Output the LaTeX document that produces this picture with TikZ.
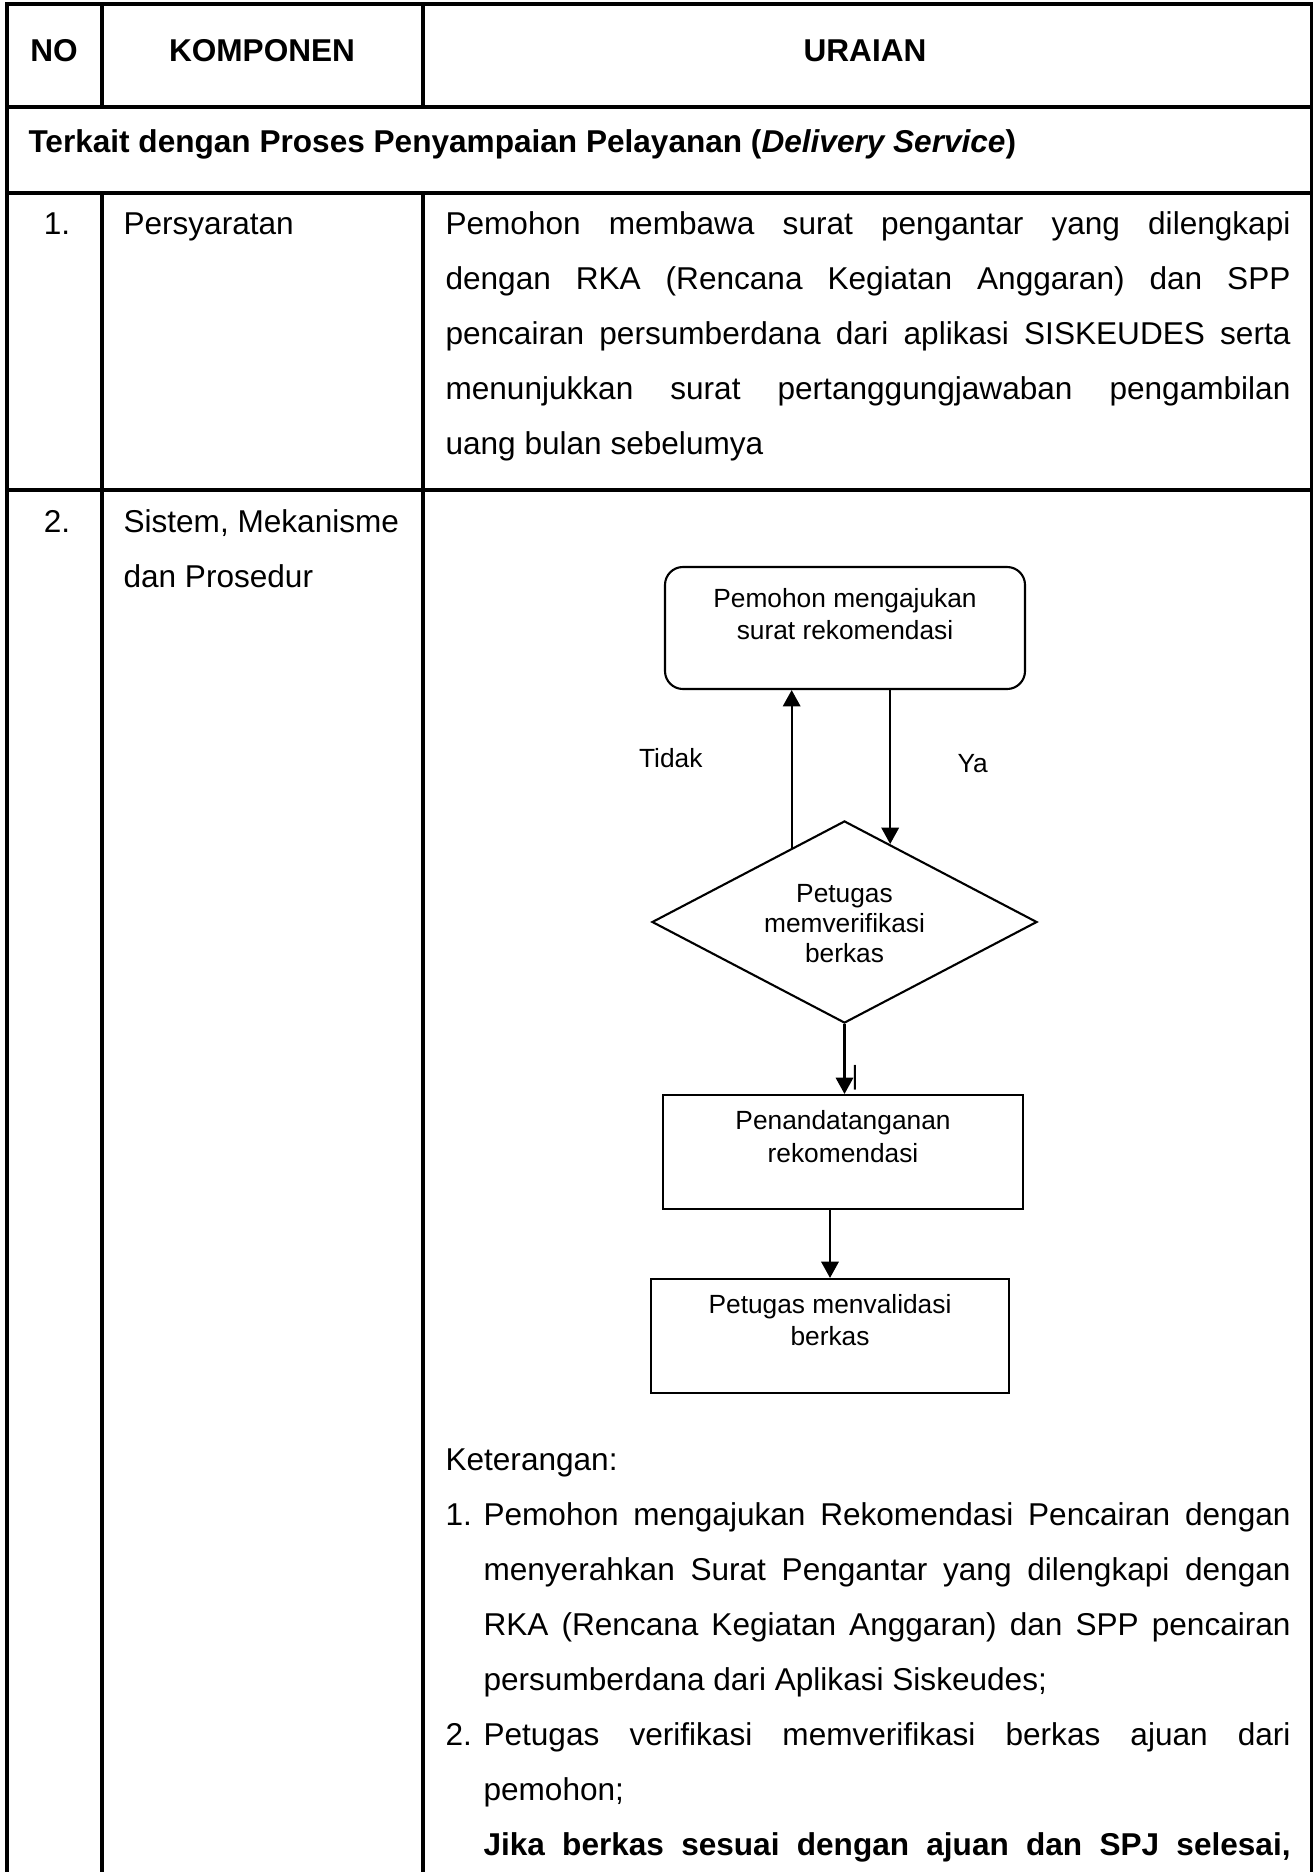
\documentclass[tikz,border=0pt]{standalone}
\usepackage{fontspec}
\setmainfont{Liberation Sans}
\usetikzlibrary{shapes.geometric,arrows.meta,calc}

% a justified line of given width
\newcommand{\fillrow}[2]{\makebox[#1][s]{#2}}

\begin{document}
\begin{tikzpicture}[x=0.38pt,y=-0.38pt,
  grid/.style={line width=1.15pt},
  cell/.style={inner sep=0pt,anchor=base west,font=\fontsize{12}{14}\selectfont},
  cellc/.style={inner sep=0pt,anchor=base,font=\fontsize{12}{14}\selectfont},
  head/.style={inner sep=0pt,anchor=base,font=\fontsize{12}{14}\selectfont\bfseries},
  fbox/.style={draw,line width=0.8pt,inner sep=0pt},
  roundbox/.style={fbox,rounded corners=6.8pt},
  decision/.style={fbox,diamond,aspect=1.9,minimum width=146.3pt,minimum height=76.8pt},
  ftxt/.style={inner sep=0pt,anchor=base,font=\fontsize{10}{12}\selectfont},
  arr/.style={line width=0.85pt,-{Triangle[width=6.6pt,length=6.2pt]}}
]
\useasboundingbox (0,0) rectangle (1314,1872);

% table grid
\draw[grid] (7,1872) -- (7,4) -- (1311,4) -- (1311,1872);
\draw[grid] (7,107) -- (1311,107);
\draw[grid] (7,193) -- (1311,193);
\draw[grid] (7,490) -- (1311,490);
\draw[grid] (102,4) -- (102,107);
\draw[grid] (423,4) -- (423,107);
\draw[grid] (102,193) -- (102,1872);
\draw[grid] (423,193) -- (423,1872);

% header
\node[head] (hno) at (54,62) {NO};
\node[head] (hkomp) at (262,62) {KOMPONEN};
\node[head] (hurai) at (865,62) {URAIAN};
\node[head,anchor=base west] (sect) at (28,152)
  {Terkait dengan Proses Penyampaian Pelayanan (\textit{Delivery Service})};

% row 1
\node[cellc] (no1) at (57,234) {1.};
\node[cell] (komp1) at (123,234) {Persyaratan};
\node[cell] (r1a) at (445,234.0) {\fillrow{321.1pt}{Pemohon membawa surat pengantar yang dilengkapi}};
\node[cell] (r1b) at (445,289.2) {\fillrow{321.1pt}{dengan RKA (Rencana Kegiatan Anggaran) dan SPP}};
\node[cell] (r1c) at (445,344.4) {\fillrow{321.1pt}{pencairan persumberdana dari aplikasi SISKEUDES serta}};
\node[cell] (r1d) at (445,399.6) {\fillrow{321.1pt}{menunjukkan surat pertanggungjawaban pengambilan}};
\node[cell] (r1e) at (445,454.8) {uang bulan sebelumya};

% row 2
\node[cellc] (no2) at (57,532) {2.};
\node[cell] (komp2a) at (123,532) {Sistem, Mekanisme};
\node[cell] (komp2b) at (123,587) {dan Prosedur};

% flowchart boxes
\node[roundbox,minimum width=136.8pt,minimum height=46.36pt] (ajukan) at (845,628) {};
\node[decision] (verif) at (844.5,922) {};
\node[fbox,minimum width=136.8pt,minimum height=43.32pt] (ttd) at (843,1152) {};
\node[fbox,minimum width=136.04pt,minimum height=43.32pt] (valid) at (830,1336) {};

% flowchart texts
\node[ftxt] (ajukan-a) at (845,607) {Pemohon mengajukan};
\node[ftxt] (ajukan-b) at (845,639) {surat rekomendasi};
\node[ftxt] (verif-a) at (844.5,902) {Petugas};
\node[ftxt] (verif-b) at (844.5,932) {memverifikasi};
\node[ftxt] (verif-c) at (844.5,962) {berkas};
\node[ftxt] (ttd-a) at (843,1129) {Penandatanganan};
\node[ftxt] (ttd-b) at (843,1162) {rekomendasi};
\node[ftxt] (valid-a) at (830,1313) {Petugas menvalidasi};
\node[ftxt] (valid-b) at (830,1345) {berkas};
\node[ftxt,anchor=base east] (tidak) at (703,767) {Tidak};
\node[ftxt,anchor=base west] (ya-t) at (957,772) {Ya};
\node[ftxt] (bar) at (855,1084) {|};

% connectors
\coordinate (tdk) at ($(verif.north)!0.273!(verif.west)$);
\coordinate (yes) at ($(verif.north)!0.236!(verif.east)$);
\draw[arr] (tdk) -- (tdk |- ajukan.south);
\draw[arr] (yes |- ajukan.south) -- (yes);
\draw[arr] (verif.south) -- (verif.south |- ttd.north);
\draw[arr] (valid.north |- ttd.south) -- (valid.north);

% notes
\node[cell] (ket) at (445,1470) {Keterangan:};
\node[cell] (k1n) at (445,1525) {1.};
\node[cell] (k1a) at (483,1525) {\fillrow{306.7pt}{Pemohon mengajukan Rekomendasi Pencairan dengan}};
\node[cell] (k1b) at (483,1580) {\fillrow{306.7pt}{menyerahkan Surat Pengantar yang dilengkapi dengan}};
\node[cell] (k1c) at (483,1635) {\fillrow{306.7pt}{RKA (Rencana Kegiatan Anggaran) dan SPP pencairan}};
\node[cell] (k1d) at (483,1690) {persumberdana dari Aplikasi Siskeudes;};
\node[cell] (k2n) at (445,1745) {2.};
\node[cell] (k2a) at (483,1745) {\fillrow{306.7pt}{Petugas verifikasi memverifikasi berkas ajuan dari}};
\node[cell] (k2b) at (483,1800) {pemohon;};
\node[cell] (k2c) at (483,1855) {\fillrow{306.7pt}{\bfseries Jika berkas sesuai dengan ajuan dan SPJ selesai,}};
\end{tikzpicture}
\end{document}
